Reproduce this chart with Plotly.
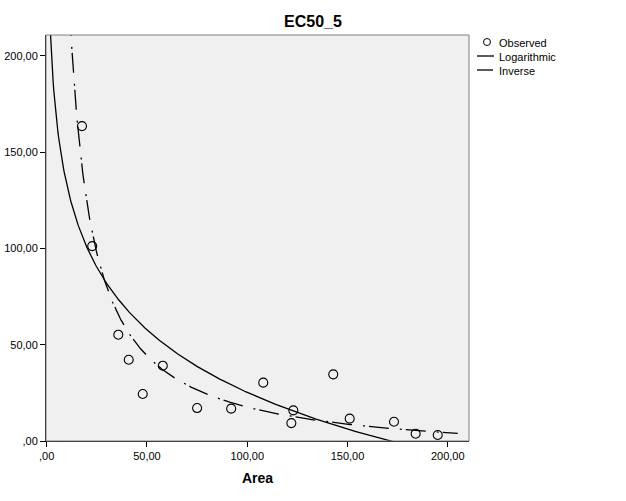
import numpy as np
import plotly.graph_objects as go

area = [17.6, 22.7, 35.7, 40.9, 47.9, 57.9, 75.0, 92.0, 108.0, 122.0, 123.0,
        142.9, 151.1, 173.2, 184.0, 195.0]
ec50 = [163.5, 101.2, 55.2, 42.2, 24.4, 39.1, 17.1, 16.8, 30.3, 9.3, 15.9,
        34.6, 11.6, 10.0, 3.8, 3.1]

tick_vals = [0, 50, 100, 150, 200]
tick_text = [",00", "50,00", "100,00", "150,00", "200,00"]
legend_names = ["Observed", "Logarithmic", "Inverse"]

curve_x_start = 0.5
curve_x_end = 205.0

# Fitted models (as SPSS curve estimation does): least squares on the observed data
xa = np.array(area)
ya = np.array(ec50)
b_log, a_log = np.polyfit(np.log(xa), ya, 1)
b_inv, a_inv = np.polyfit(1.0 / xa, ya, 1)
xc = np.linspace(curve_x_start, curve_x_end, 600)
y_log = a_log + b_log * np.log(xc)
y_inv = a_inv + b_inv / xc

DASHDOT = "20px,11px,2px,4px"
FONT = "Liberation Sans, Arial"

fig = go.Figure()
fig.add_trace(go.Scatter(x=area, y=ec50, mode="markers", name=legend_names[0],
                         marker=dict(symbol="circle-open", size=9,
                                     color="black", line=dict(width=1.1))))
fig.add_trace(go.Scatter(x=xc, y=y_log, mode="lines", name=legend_names[1],
                         line=dict(color="black", width=1.3)))
fig.add_trace(go.Scatter(x=xc, y=y_inv, mode="lines", name=legend_names[2],
                         line=dict(color="black", width=1.3, dash=DASHDOT)))

axis_common = dict(tickvals=tick_vals, ticktext=tick_text, ticks="outside",
                   ticklen=5, tickcolor="black", tickwidth=1,
                   showline=True, linecolor="black", linewidth=1,
                   showgrid=False, zeroline=False, automargin=False,
                   tickfont=dict(family=FONT, size=11, color="black"))

# plot area in pixels: left 46, right 469, top 35, bottom 441
PW, PH = 423.0, 406.0


def px(xp):
    return (xp - 46) / PW


def py(yp):
    return (441 - yp) / PH


shapes = [dict(type="rect", xref="paper", yref="paper", x0=0, y0=0, x1=1,
               y1=1, line=dict(color="#808080", width=1),
               fillcolor="rgba(0,0,0,0)", layer="above")]
# legend symbols
shapes.append(dict(type="circle", xref="paper", yref="paper",
                   x0=px(483.5), x1=px(490.5), y0=py(38.5), y1=py(45.5),
                   line=dict(color="black", width=1)))
shapes.append(dict(type="line", xref="paper", yref="paper",
                   x0=px(477), x1=px(494), y0=py(56), y1=py(56),
                   line=dict(color="black", width=1.3)))
shapes.append(dict(type="line", xref="paper", yref="paper",
                   x0=px(477), x1=px(493), y0=py(70), y1=py(70),
                   line=dict(color="black", width=1.3)))

annotations = [dict(text="<b>Area</b>", xref="paper", yref="paper",
                    x=0.5, y=py(478), xanchor="center", yanchor="middle",
                    showarrow=False,
                    font=dict(family=FONT, size=14, color="black"))]
for i, name in enumerate(legend_names):
    annotations.append(dict(text=name, xref="paper", yref="paper",
                            x=px(497), y=py(43 + 14 * i), xanchor="left",
                            yanchor="middle", showarrow=False,
                            font=dict(family=FONT, size=11, color="black")))

fig.update_layout(
    width=626, height=501,
    margin=dict(l=46, r=157, t=35, b=60),
    paper_bgcolor="white", plot_bgcolor="#F0F0F0",
    showlegend=False,
    title=dict(text="<b>EC50_5</b>", x=0.5, xref="container", xanchor="center",
               y=1 - 21 / 501, yref="container", yanchor="middle",
               font=dict(family=FONT, size=16, color="black")),
    xaxis=dict(range=[-0.35, 210.6], **axis_common),
    yaxis=dict(range=[0, 210.8], **axis_common),
    shapes=shapes,
    annotations=annotations,
)

fig.write_html("out.html")
